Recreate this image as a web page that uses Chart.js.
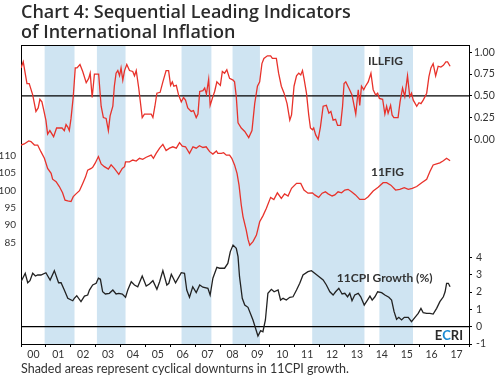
<!DOCTYPE html>
<html>
<head>
<meta charset="utf-8">
<script src="https://cdn.jsdelivr.net/npm/chart.js@4.4.0/dist/chart.umd.min.js"></script>
<style>
  html, body { margin: 0; padding: 0; background: #fff; }
</style>
</head>
<body>
<canvas id="myChart" width="495" height="380"></canvas>
<script>
// ILLFIG (right axis, top panel)
const illDates = [2000.00,2000.09,2000.24,2000.33,2000.47,2000.60,2000.69,2000.76,2000.84,2000.91,2001.00,2001.07,2001.16,2001.31,2001.43,2001.65,2001.74,2001.81,2001.88,2001.94,2002.01,2002.10,2002.18,2002.25,2002.37,2002.48,2002.62,2002.72,2002.78,2002.86,2002.95,2003.12,2003.22,2003.31,2003.42,2003.51,2003.58,2003.69,2003.75,2003.82,2003.89,2003.96,2004.02,2004.09,2004.16,2004.25,2004.36,2004.49,2004.56,2004.63,2004.73,2004.87,2004.96,2005.23,2005.30,2005.38,2005.46,2005.59,2005.70,2005.83,2005.93,2006.01,2006.08,2006.14,2006.24,2006.33,2006.44,2006.53,2006.61,2006.70,2006.84,2006.93,2007.04,2007.11,2007.18,2007.31,2007.38,2007.45,2007.54,2007.60,2007.71,2007.78,2007.87,2008.01,2008.09,2008.18,2008.27,2008.38,2008.52,2008.58,2008.65,2008.72,2008.85,2008.99,2009.15,2009.28,2009.39,2009.50,2009.59,2009.68,2009.76,2009.90,2010.03,2010.10,2010.26,2010.35,2010.46,2010.57,2010.69,2010.80,2010.87,2010.97,2011.07,2011.16,2011.24,2011.31,2011.37,2011.47,2011.56,2011.63,2011.71,2011.76,2011.84,2011.94,2012.03,2012.14,2012.27,2012.37,2012.45,2012.54,2012.64,2012.72,2012.84,2012.92,2012.98,2013.05,2013.17,2013.30,2013.45,2013.55,2013.61,2013.68,2013.77,2013.84,2013.95,2014.06,2014.15,2014.25,2014.33,2014.40,2014.53,2014.62,2014.69,2014.75,2014.85,2014.91,2014.98,2015.15,2015.23,2015.33,2015.42,2015.53,2015.62,2015.69,2015.76,2015.90,2015.99,2016.07,2016.16,2016.30,2016.39,2016.47,2016.56,2016.66,2016.76,2016.87,2016.97,2017.07,2017.14,2017.24];
const illValues = [0.82,0.89,0.64,0.64,0.51,0.32,0.36,0.46,0.43,0.34,0.22,0.06,0.10,0.03,0.13,0.13,0.10,0.17,0.14,0.10,0.24,0.49,0.82,0.82,0.86,0.78,0.65,0.70,0.76,0.48,0.75,0.75,0.38,0.25,0.24,0.10,0.27,0.38,0.61,0.76,0.79,0.73,0.82,0.68,0.79,0.86,0.79,0.78,0.73,0.79,0.59,0.25,0.29,0.29,0.25,0.38,0.53,0.54,0.66,0.79,0.79,0.62,0.66,0.61,0.62,0.51,0.43,0.48,0.45,0.36,0.32,0.33,0.25,0.29,0.55,0.56,0.59,0.52,0.69,0.39,0.49,0.55,0.66,0.62,0.78,0.76,0.80,0.70,0.68,0.66,0.49,0.19,0.13,0.09,0.02,0.10,0.41,0.61,0.66,0.87,0.93,0.96,0.96,0.93,0.93,0.76,0.61,0.53,0.41,0.22,0.28,0.61,0.73,0.76,0.74,0.79,0.70,0.53,0.28,0.13,0.11,0.13,0.05,0.00,0.14,0.38,0.39,0.30,0.32,0.22,0.23,0.16,0.16,0.38,0.64,0.66,0.59,0.51,0.29,0.57,0.39,0.61,0.57,0.61,0.66,0.76,0.57,0.51,0.53,0.47,0.46,0.29,0.38,0.30,0.39,0.28,0.25,0.25,0.43,0.59,0.49,0.73,0.49,0.53,0.45,0.38,0.42,0.41,0.45,0.53,0.72,0.82,0.87,0.73,0.84,0.83,0.85,0.89,0.89,0.84];

// 11FIG (left axis, middle panel)
const figDates = [2000.00,2000.13,2000.31,2000.40,2000.54,2000.67,2000.80,2000.94,2001.07,2001.21,2001.27,2001.41,2001.54,2001.67,2001.77,2001.88,2002.01,2002.10,2002.21,2002.35,2002.48,2002.59,2002.68,2002.82,2002.88,2002.98,2003.11,2003.22,2003.35,2003.51,2003.62,2003.75,2003.93,2004.07,2004.16,2004.20,2004.36,2004.49,2004.63,2004.76,2004.89,2005.03,2005.23,2005.32,2005.43,2005.57,2005.70,2005.83,2005.97,2006.10,2006.24,2006.37,2006.48,2006.61,2006.77,2006.91,2007.04,2007.17,2007.31,2007.44,2007.58,2007.71,2007.85,2007.91,2008.05,2008.14,2008.25,2008.38,2008.47,2008.58,2008.68,2008.76,2008.85,2008.92,2009.05,2009.12,2009.19,2009.32,2009.46,2009.59,2009.72,2009.86,2010.03,2010.16,2010.30,2010.46,2010.59,2010.73,2010.87,2011.07,2011.24,2011.37,2011.53,2011.71,2011.80,2011.96,2012.10,2012.23,2012.34,2012.50,2012.61,2012.74,2012.88,2013.01,2013.14,2013.28,2013.44,2013.61,2013.81,2013.95,2014.15,2014.35,2014.55,2014.69,2014.86,2015.05,2015.22,2015.40,2015.56,2015.72,2015.90,2016.10,2016.30,2016.43,2016.56,2016.70,2016.83,2016.97,2017.10,2017.24];
const figValues = [113.0,113.3,114.2,114.0,113.0,113.0,111.1,109.2,106.3,104.9,103.2,102.5,101.1,99.3,97.2,97.0,96.8,98.2,99.0,99.9,102.0,103.8,105.8,106.3,106.6,107.8,109.7,107.6,106.8,106.1,107.3,106.3,104.6,106.3,106.8,108.2,108.2,108.7,108.4,109.2,108.9,109.5,110.1,109.2,110.6,112.1,113.2,111.4,112.1,112.5,112.1,113.7,112.7,112.5,110.6,112.5,112.1,112.8,112.3,112.5,111.1,110.4,111.3,110.6,110.6,110.8,110.1,110.1,109.2,107.3,104.9,101.5,95.8,92.5,88.6,86.0,84.3,85.3,87.2,91.0,92.7,94.9,98.0,97.4,99.3,97.7,99.0,98.4,100.6,102.0,102.0,100.1,99.2,99.3,98.7,98.0,99.2,99.6,99.0,98.4,98.7,99.6,99.3,100.1,100.3,99.6,98.7,97.4,97.4,98.2,99.8,100.9,102.2,102.2,101.5,100.1,100.3,100.8,100.3,100.6,101.1,102.2,103.2,105.4,107.3,107.6,107.9,108.5,109.2,108.5];

// 11CPI growth, % (right axis, bottom panel)
const cpiDates = [2000.00,2000.17,2000.27,2000.36,2000.47,2000.58,2000.67,2000.80,2001.00,2001.17,2001.34,2001.51,2001.61,2001.74,2001.88,2002.08,2002.14,2002.24,2002.41,2002.55,2002.68,2002.75,2002.88,2003.02,2003.11,2003.19,2003.28,2003.39,2003.55,2003.69,2003.82,2003.93,2004.07,2004.20,2004.29,2004.43,2004.56,2004.69,2004.87,2005.03,2005.16,2005.30,2005.46,2005.57,2005.70,2005.86,2005.94,2006.04,2006.21,2006.44,2006.57,2006.66,2006.77,2006.90,2007.04,2007.18,2007.31,2007.51,2007.60,2007.71,2007.87,2007.98,2008.18,2008.31,2008.41,2008.52,2008.65,2008.72,2008.78,2008.89,2008.99,2009.12,2009.32,2009.52,2009.63,2009.72,2009.82,2009.92,2010.06,2010.17,2010.33,2010.43,2010.53,2010.66,2010.80,2010.93,2011.07,2011.20,2011.33,2011.53,2011.67,2011.80,2011.94,2012.14,2012.27,2012.41,2012.54,2012.64,2012.77,2012.90,2013.01,2013.12,2013.21,2013.30,2013.41,2013.55,2013.65,2013.79,2013.92,2014.02,2014.11,2014.22,2014.33,2014.49,2014.62,2014.78,2014.89,2014.99,2015.09,2015.18,2015.29,2015.40,2015.56,2015.69,2015.83,2015.96,2016.07,2016.16,2016.30,2016.43,2016.56,2016.70,2016.83,2016.97,2017.04,2017.10,2017.17,2017.24];
const cpiValues = [2.60,3.09,2.54,2.66,3.09,2.93,2.99,2.99,3.12,2.70,3.24,2.54,2.54,2.12,1.64,1.50,1.64,1.79,1.45,1.77,1.83,2.12,2.41,2.51,2.80,2.74,2.02,1.89,1.93,2.12,1.89,1.93,1.89,1.70,2.12,2.60,2.41,2.31,2.93,2.35,2.47,2.66,2.16,2.60,3.24,2.41,2.51,3.03,2.54,3.12,3.09,2.12,1.70,2.31,1.97,2.41,2.28,2.22,1.83,2.80,3.43,3.38,3.38,3.66,4.34,4.72,4.53,4.05,2.89,1.64,1.25,1.12,0.39,-0.54,-0.23,-0.29,0.39,1.93,2.16,2.02,2.12,1.54,1.64,1.54,1.70,1.73,2.12,2.51,2.99,3.18,3.24,3.09,2.93,2.70,2.41,2.02,1.83,2.02,2.22,1.89,1.93,1.73,1.93,1.50,1.83,1.93,1.73,1.25,1.54,1.77,1.54,1.73,2.02,1.97,1.83,1.70,1.54,0.87,0.43,0.54,0.39,0.54,0.54,0.29,0.54,0.77,1.06,0.81,0.77,0.77,0.73,1.06,1.45,1.73,2.02,2.51,2.51,2.31];

// cyclical downturns in 11CPI growth (shaded)
const shadeStart = [2000.95, 2003.05, 2006.45, 2008.50, 2011.70, 2014.40];
const shadeEnd   = [2002.15, 2004.20, 2007.65, 2009.60, 2013.80, 2015.75];

const illTicks = [0, 0.25, 0.5, 0.75, 1];
const figTicks = [85, 90, 95, 100, 105, 110];
const cpiTicks = [-1, 0, 1, 2, 3, 4];

const FONT = 'Lato';
const TXT = '#333';
const RED = '#e8322b';

const toPoints = (xs, ys) => xs.map((x, i) => ({x: x, y: ys[i]}));

const extras = {
    id: 'extras',
    beforeDraw(chart) {
        const {ctx, chartArea: a, scales} = chart;
        ctx.save();
        ctx.fillStyle = '#fff';
        ctx.fillRect(0, 0, chart.width, chart.height);
        ctx.fillStyle = '#cfe4f2';
        shadeStart.forEach((s, i) => {
            const x0 = scales.x.getPixelForValue(s);
            const x1 = scales.x.getPixelForValue(shadeEnd[i]);
            ctx.fillRect(x0, a.top, x1 - x0, a.bottom - a.top);
        });
        ctx.restore();
    },
    afterDatasetsDraw(chart) {
        const {ctx, chartArea: a, scales} = chart;
        const x = scales.x;
        ctx.save();
        ctx.fillStyle = TXT;
        ctx.textBaseline = 'middle';
        ctx.textAlign = 'left';
        ctx.font = 'bold 12px ' + FONT;
        ctx.fillText('ILLFIG', x.getPixelForValue(2013.94), scales.yIll.getPixelForValue(0.90));
        ctx.fillText('11FIG', x.getPixelForValue(2014.06), scales.yFig.getPixelForValue(105.3));
        ctx.fillText('11CPI Growth (%)', x.getPixelForValue(2012.69), scales.yCpi.getPixelForValue(2.8));

        // ECRI mark
        ctx.font = 'bold 13px ' + FONT;
        const parts = [['E', '#2b2b2b'], ['C', '#1b8ad3'], ['RI', '#2b2b2b']];
        let total = 0;
        parts.forEach(p => total += ctx.measureText(p[0]).width);
        let px = a.right - 6 - total;
        const py = a.bottom - 8;
        parts.forEach(p => {
            ctx.fillStyle = p[1];
            ctx.fillText(p[0], px, py);
            px += ctx.measureText(p[0]).width;
        });

        // top frame line
        ctx.strokeStyle = '#000';
        ctx.lineWidth = 1;
        ctx.beginPath();
        ctx.moveTo(a.left, Math.round(a.top) + 0.5);
        ctx.lineTo(a.right, Math.round(a.top) + 0.5);
        ctx.stroke();
        ctx.restore();
    }
};

const graph = document.getElementById('myChart');

const chart = new Chart(graph, {
    type: 'line',
    data: {
        datasets: [
            {
                label: 'ILLFIG',
                data: toPoints(illDates, illValues),
                yAxisID: 'yIll',
                borderColor: RED,
                borderWidth: 1.3,
                pointRadius: 0
            },
            {
                label: '11FIG',
                data: toPoints(figDates, figValues),
                yAxisID: 'yFig',
                borderColor: RED,
                borderWidth: 1.3,
                pointRadius: 0
            },
            {
                label: '11CPI Growth (%)',
                data: toPoints(cpiDates, cpiValues),
                yAxisID: 'yCpi',
                borderColor: '#222',
                borderWidth: 1.3,
                pointRadius: 0
            },
            {
                label: 'ILLFIG 0.50',
                data: [{x: 2000, y: 0.5}, {x: 2018, y: 0.5}],
                yAxisID: 'yIll',
                borderColor: '#000',
                borderWidth: 1.3,
                pointRadius: 0
            },
            {
                label: 'growth zero',
                data: [{x: 2000, y: 0}, {x: 2018, y: 0}],
                yAxisID: 'yCpi',
                borderColor: '#000',
                borderWidth: 1.3,
                pointRadius: 0
            }
        ]
    },
    options: {
        responsive: false,
        animation: false,
        devicePixelRatio: 1,
        layout: { padding: 0 },
        scales: {
            x: {
                type: 'linear',
                position: 'bottom',
                min: 2000,
                max: 2018,
                afterFit: s => { s.height = 17; },
                ticks: {
                    stepSize: 1,
                    autoSkip: false,
                    maxRotation: 0,
                    labelOffset: 12.4,
                    padding: 1,
                    color: TXT,
                    font: { family: FONT, size: 10.5 },
                    callback: v => v < 2018 ? String(v % 100).padStart(2, '0') : ''
                },
                grid: { drawOnChartArea: false, tickLength: 3, color: '#000' },
                border: { display: true, color: '#000', width: 1 }
            },
            yFig: {
                type: 'linear',
                position: 'left',
                min: 55.96,
                max: 141.68,
                afterFit: s => { s.width = 21; },
                afterBuildTicks: s => { s.ticks = figTicks.map(v => ({value: v})); },
                ticks: {
                    padding: 5,
                    color: TXT,
                    font: { family: FONT, size: 10 }
                },
                grid: { drawOnChartArea: false, drawTicks: false },
                border: { display: true, color: '#000', width: 1 }
            },
            yIll: {
                type: 'linear',
                position: 'right',
                stack: 'right',
                stackWeight: 155,
                min: -0.698,
                max: 1.084,
                afterFit: s => { s.width = 26; },
                afterBuildTicks: s => { s.ticks = illTicks.map(v => ({value: v})); },
                ticks: {
                    padding: 2,
                    color: TXT,
                    font: { family: FONT, size: 10.5 },
                    callback: v => v.toFixed(2)
                },
                grid: { drawOnChartArea: false, tickLength: 3, color: '#000' },
                border: { display: true, color: '#000', width: 1 }
            },
            yCpi: {
                type: 'linear',
                position: 'right',
                stack: 'right',
                stackWeight: 144,
                min: -1,
                max: 7.324,
                afterFit: s => { s.width = 26; },
                afterBuildTicks: s => { s.ticks = cpiTicks.map(v => ({value: v})); },
                ticks: {
                    padding: 4,
                    color: TXT,
                    font: { family: FONT, size: 10.5 },
                    callback: v => String(v)
                },
                grid: { drawOnChartArea: false, tickLength: 3, color: '#000' },
                border: { display: true, color: '#000', width: 1 }
            }
        },
        plugins: {
            legend: { display: false },
            tooltip: { enabled: false },
            title: {
                display: true,
                text: ['Chart 4: Sequential Leading Indicators', 'of International Inflation'],
                align: 'start',
                fullSize: false,
                color: '#2b2b2b',
                font: { family: 'Open Sans', size: 18, weight: 600, lineHeight: '20px' },
                padding: { top: 3, bottom: 2 }
            },
            subtitle: {
                display: true,
                position: 'bottom',
                text: 'Shaded areas represent cyclical downturns in 11CPI growth.',
                align: 'start',
                fullSize: false,
                color: TXT,
                font: { family: FONT, size: 12.5, lineHeight: '15px' },
                padding: { top: 0, bottom: 4 }
            }
        }
    },
    plugins: [extras]
});
</script>
</body>
</html>
